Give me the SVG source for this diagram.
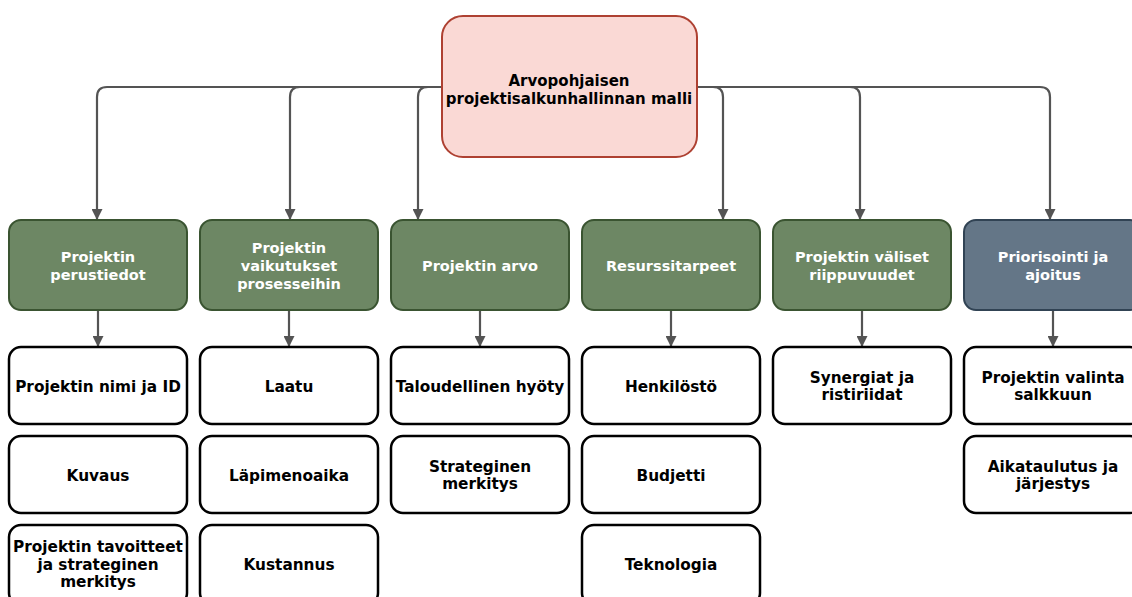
<svg xmlns="http://www.w3.org/2000/svg" width="1132" height="597" viewBox="0 0 1132 597">
  <defs>
    <marker id="arrow" viewBox="0 0 10 10" refX="10" refY="5" markerWidth="11" markerHeight="11" markerUnits="userSpaceOnUse" orient="auto">
      <path d="M0,0 L10,5 L0,10 Z" fill="#545454"/>
    </marker>
    <style>
      text { font-family: "DejaVu Sans", Verdana, sans-serif; font-weight: bold; text-anchor: middle; }
      .root rect { fill: #fad9d5; stroke: #ae4132; stroke-width: 2; }
      .root text { fill: #000; font-size: 15px; }
      .cat rect { fill: #6d8764; stroke: #3a5431; stroke-width: 2; }
      .cat.blue rect { fill: #647687; stroke: #314354; }
      .cat text { fill: #fff; font-size: 14.5px; }
      .item rect { fill: #fff; stroke: #000; stroke-width: 2.5; }
      .item text { fill: #000; font-size: 15.3px; }
      .conn path { fill: none; stroke: #545454; stroke-width: 2.2; marker-end: url(#arrow); }
    </style>
  </defs>
  <rect width="1132" height="597" fill="#fff"/>

  <!-- connectors -->
  <g class="conn" id="connectors">
    <path d="M442,87 H107 Q97,87 97,97 V220"/>
    <path d="M442,87 H300 Q290,87 290,97 V220"/>
    <path d="M442,87 H428 Q418,87 418,97 V220"/>
    <path d="M697,87 H713 Q723,87 723,97 V220"/>
    <path d="M697,87 H850 Q860,87 860,97 V220"/>
    <path d="M697,87 H1040 Q1050,87 1050,97 V220"/>
    <path d="M98,310 V347"/>
    <path d="M289,310 V347"/>
    <path d="M480,310 V347"/>
    <path d="M671,310 V347"/>
    <path d="M862,310 V347"/>
    <path d="M1053,310 V347"/>
  </g>

  <!-- root -->
  <g class="root" id="root">
    <rect x="442" y="16" width="255" height="141" rx="21"/>
    <text x="569" y="86">Arvopohjaisen</text>
    <text x="569" y="104">projektisalkunhallinnan malli</text>
  </g>

  <!-- categories -->
  <g class="cat" id="cat-perustiedot">
    <rect x="9" y="220" width="178" height="90" rx="12"/>
    <text x="98" y="262">Projektin</text>
    <text x="98" y="280">perustiedot</text>
  </g>
  <g class="cat" id="cat-vaikutukset">
    <rect x="200" y="220" width="178" height="90" rx="12"/>
    <text x="289" y="253">Projektin</text>
    <text x="289" y="271">vaikutukset</text>
    <text x="289" y="289">prosesseihin</text>
  </g>
  <g class="cat" id="cat-arvo">
    <rect x="391" y="220" width="178" height="90" rx="12"/>
    <text x="480" y="271">Projektin arvo</text>
  </g>
  <g class="cat" id="cat-resurssit">
    <rect x="582" y="220" width="178" height="90" rx="12"/>
    <text x="671" y="271">Resurssitarpeet</text>
  </g>
  <g class="cat" id="cat-riippuvuudet">
    <rect x="773" y="220" width="178" height="90" rx="12"/>
    <text x="862" y="262">Projektin väliset</text>
    <text x="862" y="280">riippuvuudet</text>
  </g>
  <g class="cat blue" id="cat-priorisointi">
    <rect x="964" y="220" width="178" height="90" rx="12"/>
    <text x="1053" y="262">Priorisointi ja</text>
    <text x="1053" y="280">ajoitus</text>
  </g>

  <!-- items: column 1 -->
  <g class="item" id="item-nimi">
    <rect x="9" y="347" width="178" height="77" rx="12"/>
    <text x="98" y="392">Projektin nimi ja ID</text>
  </g>
  <g class="item" id="item-kuvaus">
    <rect x="9" y="436" width="178" height="77" rx="12"/>
    <text x="98" y="481">Kuvaus</text>
  </g>
  <g class="item" id="item-tavoitteet">
    <rect x="9" y="525" width="178" height="80" rx="12"/>
    <text x="98" y="552">Projektin tavoitteet</text>
    <text x="98" y="570">ja strateginen</text>
    <text x="98" y="587">merkitys</text>
  </g>

  <!-- items: column 2 -->
  <g class="item" id="item-laatu">
    <rect x="200" y="347" width="178" height="77" rx="12"/>
    <text x="289" y="392">Laatu</text>
  </g>
  <g class="item" id="item-lapimenoaika">
    <rect x="200" y="436" width="178" height="77" rx="12"/>
    <text x="289" y="481">Läpimenoaika</text>
  </g>
  <g class="item" id="item-kustannus">
    <rect x="200" y="525" width="178" height="80" rx="12"/>
    <text x="289" y="570">Kustannus</text>
  </g>

  <!-- items: column 3 -->
  <g class="item" id="item-taloudellinen">
    <rect x="391" y="347" width="178" height="77" rx="12"/>
    <text x="480" y="392">Taloudellinen hyöty</text>
  </g>
  <g class="item" id="item-strateginen">
    <rect x="391" y="436" width="178" height="77" rx="12"/>
    <text x="480" y="472">Strateginen</text>
    <text x="480" y="489">merkitys</text>
  </g>

  <!-- items: column 4 -->
  <g class="item" id="item-henkilosto">
    <rect x="582" y="347" width="178" height="77" rx="12"/>
    <text x="671" y="392">Henkilöstö</text>
  </g>
  <g class="item" id="item-budjetti">
    <rect x="582" y="436" width="178" height="77" rx="12"/>
    <text x="671" y="481">Budjetti</text>
  </g>
  <g class="item" id="item-teknologia">
    <rect x="582" y="525" width="178" height="80" rx="12"/>
    <text x="671" y="570">Teknologia</text>
  </g>

  <!-- items: column 5 -->
  <g class="item" id="item-synergiat">
    <rect x="773" y="347" width="178" height="77" rx="12"/>
    <text x="862" y="383">Synergiat ja</text>
    <text x="862" y="400">ristiriidat</text>
  </g>

  <!-- items: column 6 -->
  <g class="item" id="item-valinta">
    <rect x="964" y="347" width="178" height="77" rx="12"/>
    <text x="1053" y="383">Projektin valinta</text>
    <text x="1053" y="400">salkkuun</text>
  </g>
  <g class="item" id="item-aikataulutus">
    <rect x="964" y="436" width="178" height="77" rx="12"/>
    <text x="1053" y="472">Aikataulutus ja</text>
    <text x="1053" y="489">järjestys</text>
  </g>
</svg>
